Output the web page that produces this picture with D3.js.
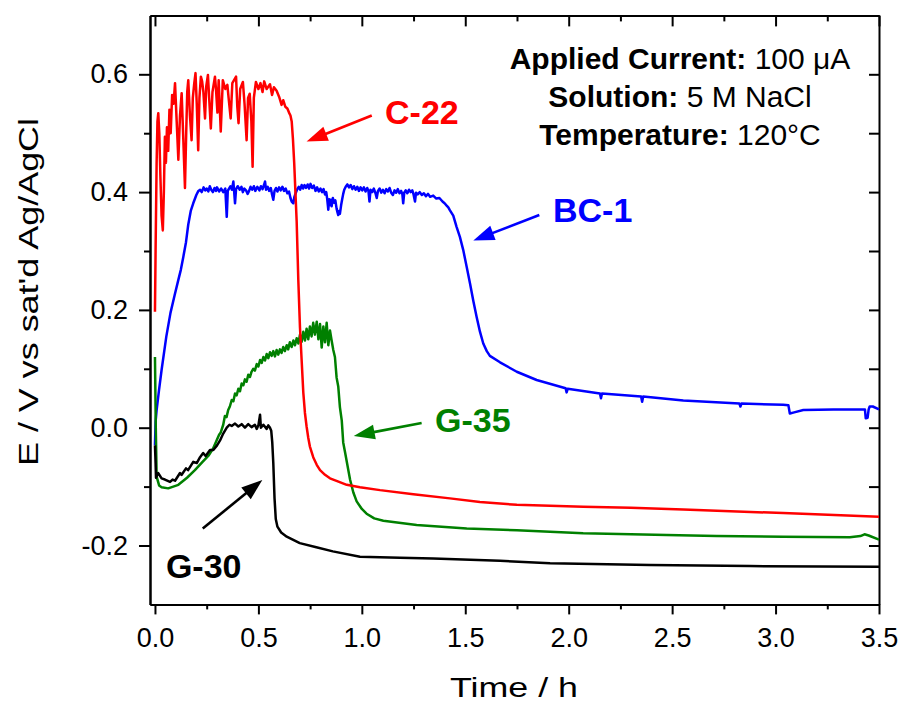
<!DOCTYPE html>
<html>
<head>
<meta charset="utf-8">
<script src="https://cdn.jsdelivr.net/npm/d3@7"></script>
<style>
  body { margin: 0; background: #fff; }
  svg { display: block; }
  text { font-family: "Liberation Sans", Arial, sans-serif; }
</style>
</head>
<body>
<svg id="chart" width="902" height="704"></svg>
<script>
// Potential vs time, [time (h), E (V vs sat'd Ag/AgCl)]
const c22 = [
  [0.000, 0.197],[0.003, 0.30],[0.008, 0.45],[0.012, 0.52],[0.016, 0.534],[0.021, 0.50],[0.026, 0.43],
  [0.032, 0.36],[0.038, 0.335],[0.043, 0.40],[0.048, 0.494],[0.053, 0.45],[0.058, 0.51],[0.064, 0.47],
  [0.070, 0.54],[0.076, 0.50],[0.083, 0.565],[0.090, 0.55],[0.097, 0.585],[0.105, 0.52],[0.113, 0.455],
  [0.121, 0.53],[0.129, 0.568],[0.137, 0.49],[0.145, 0.407],[0.151, 0.50],[0.156, 0.57],[0.161, 0.59],
  [0.169, 0.53],[0.177, 0.488],[0.183, 0.56],[0.190, 0.585],[0.196, 0.602],[0.202, 0.55],[0.209, 0.471],
  [0.215, 0.56],[0.222, 0.596],[0.228, 0.588],[0.234, 0.57],[0.242, 0.525],[0.248, 0.58],[0.256, 0.599],
  [0.262, 0.56],[0.270, 0.508],[0.278, 0.57],[0.290, 0.596],[0.295, 0.575],[0.302, 0.535],[0.308, 0.59],
  [0.318, 0.503],[0.328, 0.59],[0.340, 0.575],[0.350, 0.582],[0.356, 0.56],[0.366, 0.525],[0.374, 0.585],
  [0.392, 0.596],[0.398, 0.545],[0.404, 0.517],[0.412, 0.575],[0.425, 0.587],[0.433, 0.55],[0.443, 0.488],
  [0.450, 0.56],[0.458, 0.567],[0.466, 0.52],[0.472, 0.443],[0.478, 0.56],[0.488, 0.587],[0.500, 0.575],
  [0.510, 0.585],[0.520, 0.57],[0.528, 0.588],[0.540, 0.575],[0.556, 0.583],[0.566, 0.565],[0.575, 0.578],
  [0.588, 0.572],[0.600, 0.562],[0.612, 0.548],[0.620, 0.556],[0.630, 0.545],[0.640, 0.542],[0.648, 0.535],
  [0.655, 0.530],[0.661, 0.52],[0.667, 0.49],[0.673, 0.45],[0.679, 0.40],[0.685, 0.35],[0.693, 0.25],
  [0.701, 0.17],[0.709, 0.115],[0.717, 0.06],[0.725, 0.025],[0.733, 0.002],[0.741, -0.017],[0.749, -0.032],
  [0.765, -0.05],[0.782, -0.063],[0.798, -0.072],[0.822, -0.08],[0.846, -0.086],[0.890, -0.092],
  [0.927, -0.097],[0.991, -0.101],[1.088, -0.106],[1.249, -0.113],[1.426, -0.12],[1.571, -0.126],
  [1.749, -0.131],[2.070, -0.134],[2.300, -0.136],[2.554, -0.139],[3.037, -0.145],[3.500, -0.151]
];

const bc1 = [
  [0.000, -0.03],[0.003, 0.01],[0.008, 0.03],[0.020, 0.065],[0.032, 0.098],[0.055, 0.155],[0.075, 0.195],
  [0.095, 0.225],[0.113, 0.251],[0.125, 0.268],[0.137, 0.29],[0.150, 0.315],[0.161, 0.345],[0.173, 0.368],
  [0.185, 0.381],[0.200, 0.395],[0.210, 0.402],[0.218, 0.404],[0.226, 0.400],[0.235, 0.408],[0.243, 0.403],
  [0.250, 0.406],[0.258, 0.401],[0.265, 0.41],[0.272, 0.404],[0.280, 0.400],[0.288, 0.407],[0.295, 0.402],
  [0.300, 0.408],[0.310, 0.401],[0.320, 0.406],[0.330, 0.400],[0.340, 0.406],[0.347, 0.358],[0.352, 0.402],
  [0.358, 0.406],[0.365, 0.41],[0.372, 0.404],[0.379, 0.418],[0.383, 0.40],[0.387, 0.381],[0.392, 0.405],
  [0.400, 0.410],[0.410, 0.404],[0.418, 0.409],[0.425, 0.400],[0.432, 0.406],[0.440, 0.403],[0.448, 0.397],
  [0.455, 0.402],[0.462, 0.409],[0.470, 0.404],[0.478, 0.41],[0.485, 0.402],[0.495, 0.409],[0.505, 0.403],
  [0.512, 0.41],[0.520, 0.405],[0.527, 0.412],[0.532, 0.418],[0.537, 0.404],[0.545, 0.409],[0.552, 0.402],
  [0.560, 0.407],[0.566, 0.396],[0.572, 0.387],[0.578, 0.402],[0.585, 0.407],[0.592, 0.401],[0.600, 0.408],
  [0.608, 0.403],[0.616, 0.409],[0.624, 0.402],[0.632, 0.406],[0.640, 0.398],[0.648, 0.401],[0.655, 0.39],
  [0.661, 0.384],[0.669, 0.381],[0.674, 0.392],[0.680, 0.398],[0.688, 0.405],[0.695, 0.409],[0.702, 0.404],
  [0.709, 0.412],[0.716, 0.406],[0.723, 0.412],[0.730, 0.407],[0.738, 0.413],[0.745, 0.406],[0.752, 0.414],
  [0.760, 0.407],[0.768, 0.411],[0.776, 0.402],[0.784, 0.408],[0.792, 0.401],[0.800, 0.406],[0.808, 0.400],
  [0.815, 0.405],[0.822, 0.396],[0.828, 0.400],[0.832, 0.390],[0.838, 0.370],[0.842, 0.388],[0.846, 0.378],
  [0.850, 0.387],[0.854, 0.376],[0.860, 0.39],[0.866, 0.382],[0.872, 0.386],[0.878, 0.372],[0.882, 0.366],
  [0.886, 0.361],[0.890, 0.368],[0.894, 0.363],[0.900, 0.378],[0.905, 0.388],[0.910, 0.397],[0.915, 0.404],
  [0.922, 0.409],[0.930, 0.413],[0.938, 0.408],[0.946, 0.412],[0.954, 0.405],[0.962, 0.410],[0.970, 0.404],
  [0.978, 0.409],[0.986, 0.402],[0.994, 0.408],[1.002, 0.403],[1.010, 0.408],[1.018, 0.401],[1.026, 0.407],
  [1.032, 0.402],[1.037, 0.384],[1.042, 0.404],[1.050, 0.400],[1.058, 0.406],[1.066, 0.398],[1.072, 0.390],
  [1.078, 0.402],[1.086, 0.406],[1.094, 0.399],[1.102, 0.404],[1.110, 0.398],[1.118, 0.405],[1.126, 0.401],
  [1.134, 0.407],[1.142, 0.399],[1.150, 0.395],[1.158, 0.403],[1.166, 0.399],[1.174, 0.405],[1.182, 0.398],
  [1.190, 0.402],[1.196, 0.396],[1.200, 0.381],[1.205, 0.399],[1.212, 0.403],[1.220, 0.398],[1.228, 0.404],
  [1.236, 0.400],[1.244, 0.403],[1.250, 0.396],[1.257, 0.384],[1.262, 0.399],[1.270, 0.396],[1.280, 0.400],
  [1.290, 0.395],[1.300, 0.398],[1.310, 0.393],[1.320, 0.397],[1.330, 0.392],[1.345, 0.394],[1.360, 0.389],
  [1.375, 0.390],[1.390, 0.384],[1.400, 0.381],[1.410, 0.377],[1.418, 0.374],[1.426, 0.369],[1.442, 0.36],
  [1.458, 0.341],[1.474, 0.324],[1.490, 0.302],[1.507, 0.273],[1.523, 0.245],[1.539, 0.215],[1.555, 0.188],
  [1.571, 0.163],[1.587, 0.143],[1.604, 0.130],[1.619, 0.122],[1.668, 0.111],[1.749, 0.095],[1.845, 0.081],
  [1.985, 0.067],[1.990, 0.060],[1.995, 0.066],[2.151, 0.058],[2.156, 0.050],[2.161, 0.058],[2.350, 0.053],
  [2.355, 0.044],[2.360, 0.053],[2.554, 0.046],[2.825, 0.041],[2.830, 0.036],[2.835, 0.041],[3.037, 0.039],
  [3.062, 0.038],[3.069, 0.024],[3.090, 0.026],[3.134, 0.030],[3.279, 0.031],[3.432, 0.031],[3.436, 0.016],
  [3.445, 0.017],[3.450, 0.031],[3.455, 0.036],[3.470, 0.036],[3.500, 0.031]
];

const g35 = [
  [0.000, 0.12],[0.004, 0.0],[0.008, -0.083],[0.020, -0.098],[0.032, -0.101],[0.064, -0.103],[0.113, -0.097],
  [0.155, -0.085],[0.193, -0.072],[0.230, -0.058],[0.260, -0.047],[0.280, -0.036],[0.300, -0.02],
  [0.310, -0.012],[0.318, -0.008],[0.330, 0.005],[0.338, 0.02],[0.346, 0.018],[0.354, 0.03],[0.362, 0.036],
  [0.371, 0.047],[0.379, 0.045],[0.387, 0.058],[0.395, 0.055],[0.403, 0.066],[0.411, 0.062],[0.419, 0.075],
  [0.427, 0.072],[0.435, 0.082],[0.443, 0.078],[0.451, 0.09],[0.459, 0.086],[0.467, 0.095],[0.475, 0.1],
  [0.483, 0.097],[0.492, 0.108],[0.500, 0.104],[0.508, 0.115],[0.516, 0.11],[0.524, 0.12],[0.532, 0.114],
  [0.540, 0.125],[0.548, 0.118],[0.556, 0.128],[0.564, 0.122],[0.572, 0.13],[0.580, 0.121],[0.588, 0.132],
  [0.596, 0.124],[0.604, 0.133],[0.612, 0.127],[0.620, 0.137],[0.628, 0.13],[0.637, 0.14],[0.644, 0.133],
  [0.652, 0.145],[0.661, 0.137],[0.669, 0.148],[0.677, 0.14],[0.685, 0.152],[0.693, 0.143],[0.701, 0.158],
  [0.709, 0.146],[0.717, 0.163],[0.725, 0.148],[0.733, 0.168],[0.741, 0.15],[0.749, 0.172],[0.757, 0.155],
  [0.765, 0.178],[0.773, 0.158],[0.782, 0.18],[0.790, 0.15],[0.798, 0.176],[0.806, 0.136],[0.814, 0.172],
  [0.822, 0.145],[0.830, 0.178],[0.838, 0.14],[0.846, 0.165],[0.854, 0.148],[0.862, 0.132],[0.870, 0.12],
  [0.878, 0.085],[0.886, 0.07],[0.894, 0.035],[0.903, 0.012],[0.910, -0.025],[0.918, -0.04],[0.943, -0.088],
  [0.959, -0.11],[0.975, -0.125],[1.000, -0.138],[1.023, -0.146],[1.060, -0.154],[1.104, -0.158],
  [1.265, -0.165],[1.507, -0.171],[1.749, -0.174],[2.070, -0.179],[2.474, -0.182],[2.715, -0.184],
  [3.037, -0.185],[3.359, -0.186],[3.410, -0.184],[3.430, -0.181],[3.450, -0.183],[3.500, -0.19]
];

const g30 = [
  [0.000, -0.03],[0.003, -0.06],[0.005, -0.085],[0.016, -0.077],[0.032, -0.086],[0.048, -0.088],
  [0.073, -0.092],[0.085, -0.088],[0.097, -0.09],[0.121, -0.077],[0.129, -0.08],[0.150, -0.069],
  [0.160, -0.072],[0.185, -0.058],[0.202, -0.06],[0.218, -0.05],[0.233, -0.043],[0.245, -0.048],
  [0.266, -0.038],[0.282, -0.038],[0.300, -0.03],[0.314, -0.022],[0.330, -0.01],[0.347, 0.0],[0.360, 0.005],
  [0.371, 0.003],[0.387, 0.007],[0.403, 0.002],[0.419, 0.006],[0.435, 0.0],[0.451, 0.006],[0.467, 0.001],
  [0.483, 0.005],[0.492, -0.002],[0.500, 0.004],[0.508, 0.022],[0.512, 0.0],[0.524, 0.005],[0.540, -0.002],
  [0.548, 0.004],[0.556, 0.0],[0.562, -0.005],[0.567, -0.025],[0.572, -0.06],[0.578, -0.12],[0.584, -0.155],
  [0.592, -0.168],[0.610, -0.178],[0.637, -0.185],[0.700, -0.196],[0.780, -0.203],[0.860, -0.21],
  [0.991, -0.219],[1.184, -0.221],[1.345, -0.222],[1.668, -0.226],[1.910, -0.23],[2.393, -0.233],
  [2.876, -0.235],[3.500, -0.236]
];

const xMajorTicks = [0, 0.5, 1.0, 1.5, 2.0, 2.5, 3.0, 3.5];
const xMinorTicks = [0.25, 0.75, 1.25, 1.75, 2.25, 2.75, 3.25];
const yMajorTicks = [-0.2, 0.0, 0.2, 0.4, 0.6];
const yMinorTicks = [-0.1, 0.1, 0.3, 0.5];

const series = [
  { name: "BC-1", data: bc1, color: "#0000ff" },
  { name: "G-35", data: g35, color: "#008000" },
  { name: "G-30", data: g30, color: "#000000" },
  { name: "C-22", data: c22, color: "#ff0000" }
];

// Series labels and pointer arrows, placed in data coordinates
const labels = [
  { text: "C-22", at: [1.112, 0.516], color: "#ff0000" },
  { text: "BC-1", at: [1.924, 0.349], color: "#0000ff" },
  { text: "G-35", at: [1.354, -0.007], color: "#008000" },
  { text: "G-30", at: [0.053, -0.255], color: "#000000" }
];
const arrows = [
  { from: [1.048, 0.530], to: [0.733, 0.486], color: "#ff0000" },
  { from: [1.858, 0.361], to: [1.539, 0.318], color: "#0000ff" },
  { from: [1.289, 0.008], to: [0.961, -0.014], color: "#008000" },
  { from: [0.231, -0.171], to: [0.519, -0.089], color: "#000000" }
];
const conditions = [
  ["Applied Current:", " 100 \u03bcA"],
  ["Solution:", " 5 M NaCl"],
  ["Temperature:", " 120\u00b0C"]
];

const svg = d3.select("#chart");
svg.append("rect").attr("width", 902).attr("height", 704).attr("fill", "#fff");

const x = d3.scaleLinear().domain([-0.024, 3.5]).range([150, 879]);
const y = d3.scaleLinear().domain([-0.3, 0.7]).range([604.4, 15.4]);
const [x0, x1] = x.range();
const [yb, yt] = y.range();

function styleAxis(g) {
  g.select(".domain").attr("stroke", "#000").attr("stroke-width", 2);
  g.selectAll(".tick line").attr("stroke", "#000").attr("stroke-width", 2);
  g.selectAll(".tick text").attr("font-size", 27).attr("fill", "#000")
    .attr("font-family", '"Liberation Sans", Arial, sans-serif');
}

// bottom
const gb = svg.append("g").attr("transform", `translate(0,${yb})`)
  .call(d3.axisBottom(x).tickValues(xMajorTicks).tickSize(10).tickSizeOuter(0)
    .tickPadding(13).tickFormat(d => d.toFixed(1)));
styleAxis(gb);
const gbm = svg.append("g").attr("transform", `translate(0,${yb})`)
  .call(d3.axisBottom(x).tickValues(xMinorTicks).tickSize(5).tickSizeOuter(0).tickFormat(""));
styleAxis(gbm);

// left
const gl = svg.append("g").attr("transform", `translate(${x0},0)`)
  .call(d3.axisLeft(y).tickValues(yMajorTicks).tickSize(11).tickSizeOuter(0)
    .tickPadding(11).tickFormat(d => d.toFixed(1)));
styleAxis(gl);
const glm = svg.append("g").attr("transform", `translate(${x0},0)`)
  .call(d3.axisLeft(y).tickValues(yMinorTicks).tickSize(6).tickSizeOuter(0).tickFormat(""));
styleAxis(glm);

// top (ticks inward)
const gt = svg.append("g").attr("transform", `translate(0,${yt})`)
  .call(d3.axisTop(x).tickValues(xMajorTicks).tickSize(-11).tickSizeOuter(0).tickFormat(""));
styleAxis(gt);
const gtm = svg.append("g").attr("transform", `translate(0,${yt})`)
  .call(d3.axisTop(x).tickValues(xMinorTicks).tickSize(-6).tickSizeOuter(0).tickFormat(""));
styleAxis(gtm);

// right (ticks inward)
const gr = svg.append("g").attr("transform", `translate(${x1},0)`)
  .call(d3.axisRight(y).tickValues(yMajorTicks.concat(yMinorTicks)).tickSize(-10).tickSizeOuter(0).tickFormat(""));
styleAxis(gr);

// axis titles
svg.append("text")
  .attr("x", 450).attr("y", 697)
  .attr("font-size", 28).attr("textLength", 128).attr("lengthAdjust", "spacingAndGlyphs")
  .text("Time / h");
svg.append("text")
  .attr("transform", "translate(38,466) rotate(-90)")
  .attr("font-size", 28).attr("textLength", 348).attr("lengthAdjust", "spacingAndGlyphs")
  .text("E / V vs sat'd Ag/AgCl");

// curves
const line = d3.line().x(d => x(d[0])).y(d => y(d[1]));
svg.append("g").selectAll("path").data(series).join("path")
  .attr("d", d => line(d.data))
  .attr("fill", "none")
  .attr("stroke", d => d.color)
  .attr("stroke-width", 2.5)
  .attr("stroke-linejoin", "round");

// labels
svg.append("g").selectAll("text").data(labels).join("text")
  .attr("x", d => x(d.at[0])).attr("y", d => y(d.at[1]))
  .attr("font-size", 34).attr("font-weight", "bold")
  .attr("fill", d => d.color)
  .text(d => d.text);

// arrows
const ag = svg.append("g");
arrows.forEach(a => {
  const sx = x(a.from[0]), sy = y(a.from[1]);
  const tx = x(a.to[0]), ty = y(a.to[1]);
  const dx = tx - sx, dy = ty - sy, len = Math.hypot(dx, dy);
  const ux = dx / len, uy = dy / len;
  const headLen = 21, halfW = 7.5;
  const bx = tx - ux * headLen, by = ty - uy * headLen;
  ag.append("line")
    .attr("x1", sx).attr("y1", sy).attr("x2", bx + ux * 2).attr("y2", by + uy * 2)
    .attr("stroke", a.color).attr("stroke-width", 2.6);
  ag.append("path")
    .attr("d", `M${tx},${ty}L${bx - uy * halfW},${by + ux * halfW}L${bx + uy * halfW},${by - ux * halfW}Z`)
    .attr("fill", a.color);
});

// test conditions
const cond = svg.append("text")
  .attr("text-anchor", "middle")
  .attr("font-size", 30).attr("fill", "#000");
conditions.forEach((c, i) => {
  const ts = cond.append("tspan").attr("x", 680).attr("y", 69 + i * 38);
  ts.append("tspan").attr("font-weight", "bold").text(c[0]);
  ts.append("tspan").text(c[1]);
});
</script>
</body>
</html>
